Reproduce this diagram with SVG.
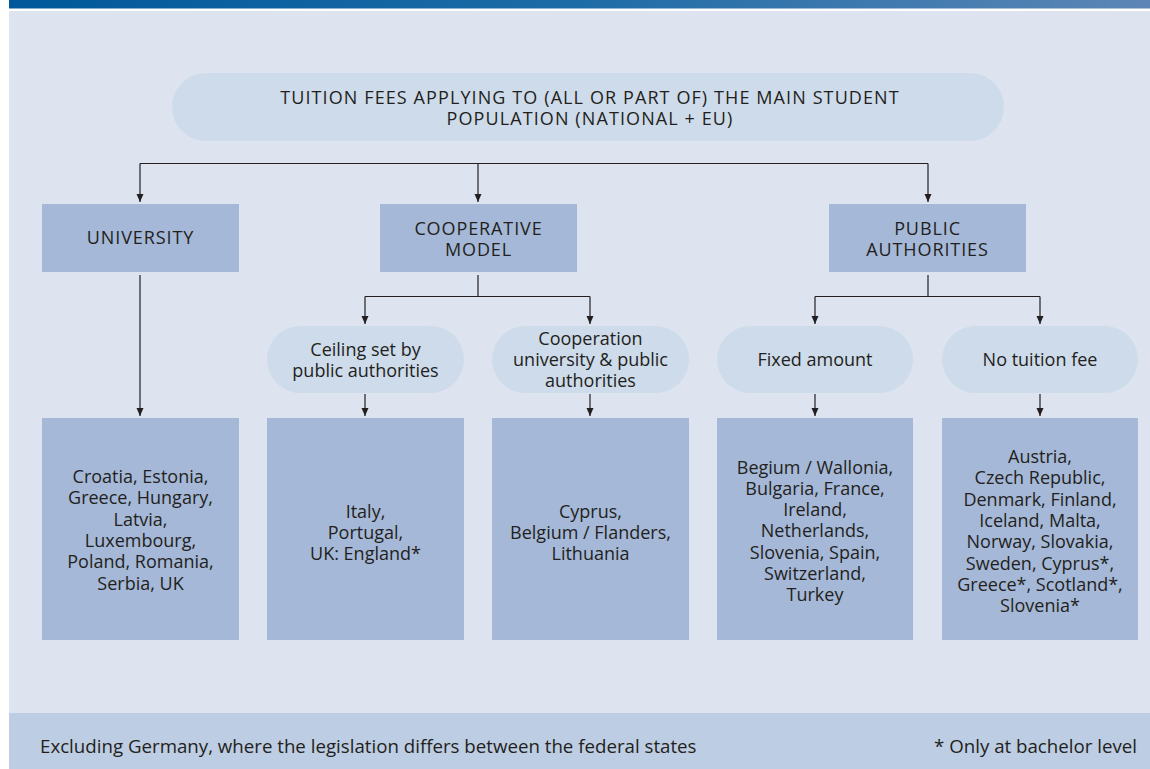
<svg xmlns="http://www.w3.org/2000/svg" width="1150" height="769" viewBox="0 0 1150 769">
<defs>
<linearGradient id="topbar" x1="0" y1="0" x2="1" y2="0">
<stop offset="0" stop-color="#00589a"/>
<stop offset="0.5" stop-color="#1e6ca7"/>
<stop offset="1" stop-color="#5d86b6"/>
</linearGradient>
<marker id="arr" viewBox="0 0 8 8" refX="8" refY="4" markerWidth="8" markerHeight="8" markerUnits="userSpaceOnUse" orient="auto">
<path d="M0,0.5 L8,4 L0,7.5 Z" fill="#231f20"/>
</marker>
<style>
text{font-family:"Open Sans","Noto Sans","Liberation Sans",sans-serif;fill:#231f20;text-anchor:middle;font-size:18px}
.cap{letter-spacing:0.9px}
.top{letter-spacing:1.1px}
.box{fill:#a5b8d7}
.oval{fill:#cedbea}
.ln{fill:none;stroke:#231f20;stroke-width:1.2}
.foot{font-size:18.7px;text-anchor:start}
</style>
</defs>
<rect x="0" y="0" width="1150" height="769" fill="#ffffff"/>
<rect x="9" y="0" width="1141" height="8.5" fill="url(#topbar)"/>
<rect x="9" y="11" width="1141" height="758" fill="#dde4ef"/>
<rect x="9" y="713" width="1141" height="56" fill="#bdcde3"/>

<g id="connectors">
<path class="ln" d="M140,163.5 H928"/>
<path class="ln" d="M140,163.5 V202" marker-end="url(#arr)"/>
<path class="ln" d="M478,163.5 V202" marker-end="url(#arr)"/>
<path class="ln" d="M928,163.5 V202" marker-end="url(#arr)"/>
<path class="ln" d="M140,275 V416" marker-end="url(#arr)"/>
<path class="ln" d="M478,275 V296.5 M365,296.5 H590"/>
<path class="ln" d="M365,296.5 V324" marker-end="url(#arr)"/>
<path class="ln" d="M590,296.5 V324" marker-end="url(#arr)"/>
<path class="ln" d="M928,275 V296.5 M815,296.5 H1040"/>
<path class="ln" d="M815,296.5 V324" marker-end="url(#arr)"/>
<path class="ln" d="M1040,296.5 V324" marker-end="url(#arr)"/>
<path class="ln" d="M365,394 V416" marker-end="url(#arr)"/>
<path class="ln" d="M590,394 V416" marker-end="url(#arr)"/>
<path class="ln" d="M815,394 V416" marker-end="url(#arr)"/>
<path class="ln" d="M1040,394 V416" marker-end="url(#arr)"/>
</g>

<g id="root">
<rect class="oval" x="172" y="73" width="832" height="68" rx="34"/>
<text class="top" x="590" y="103.5">TUITION FEES APPLYING TO (ALL OR PART OF) THE MAIN STUDENT</text>
<text class="top" x="590" y="124.5">POPULATION (NATIONAL + EU)</text>
</g>

<g id="university">
<rect class="box" x="42" y="204" width="197" height="68"/>
<text class="cap" x="140.5" y="243.5">UNIVERSITY</text>
</g>
<g id="cooperative">
<rect class="box" x="380" y="204" width="197" height="68"/>
<text class="cap" x="478.5" y="234.5">COOPERATIVE</text>
<text class="cap" x="478.5" y="255.5">MODEL</text>
</g>
<g id="public">
<rect class="box" x="829" y="204" width="197" height="68"/>
<text class="cap" x="927.5" y="234.5">PUBLIC</text>
<text class="cap" x="927.5" y="255.5">AUTHORITIES</text>
</g>

<g id="ceiling">
<rect class="oval" x="267" y="326" width="197" height="67" rx="33.5"/>
<text x="365.5" y="356">Ceiling set by</text>
<text x="365.5" y="377">public authorities</text>
</g>
<g id="cooperation">
<rect class="oval" x="492" y="326" width="197" height="67" rx="33.5"/>
<text x="590.5" y="345">Cooperation</text>
<text x="590.5" y="366">university &amp; public</text>
<text x="590.5" y="387">authorities</text>
</g>
<g id="fixed">
<rect class="oval" x="717" y="326" width="196" height="67" rx="33.5"/>
<text x="815" y="365.5">Fixed amount</text>
</g>
<g id="nofee">
<rect class="oval" x="942" y="326" width="196" height="67" rx="33.5"/>
<text x="1040" y="365.5">No tuition fee</text>
</g>

<g id="list-university">
<rect class="box" x="42" y="418" width="197" height="222"/>
<text x="140.5" y="483">Croatia, Estonia,</text>
<text x="140.5" y="504.3">Greece, Hungary,</text>
<text x="140.5" y="525.6">Latvia,</text>
<text x="140.5" y="547">Luxembourg,</text>
<text x="140.5" y="568.2">Poland, Romania,</text>
<text x="140.5" y="589.5">Serbia, UK</text>
</g>
<g id="list-ceiling">
<rect class="box" x="267" y="418" width="197" height="222"/>
<text x="365.5" y="517.5">Italy,</text>
<text x="365.5" y="538.8">Portugal,</text>
<text x="365.5" y="560">UK: England*</text>
</g>
<g id="list-cooperation">
<rect class="box" x="492" y="418" width="197" height="222"/>
<text x="590.5" y="517.5">Cyprus,</text>
<text x="590.5" y="538.8">Belgium / Flanders,</text>
<text x="590.5" y="560">Lithuania</text>
</g>
<g id="list-fixed">
<rect class="box" x="717" y="418" width="196" height="222"/>
<text x="815" y="473.5">Begium / Wallonia,</text>
<text x="815" y="494.8">Bulgaria, France,</text>
<text x="815" y="516.1">Ireland,</text>
<text x="815" y="537.4">Netherlands,</text>
<text x="815" y="558.7">Slovenia, Spain,</text>
<text x="815" y="580">Switzerland,</text>
<text x="815" y="601.3">Turkey</text>
</g>
<g id="list-nofee">
<rect class="box" x="942" y="418" width="196" height="222"/>
<text x="1040" y="463">Austria,</text>
<text x="1040" y="484.3">Czech Republic,</text>
<text x="1040" y="505.6">Denmark, Finland,</text>
<text x="1040" y="526.9">Iceland, Malta,</text>
<text x="1040" y="548.2">Norway, Slovakia,</text>
<text x="1040" y="569.5">Sweden, Cyprus*,</text>
<text x="1040" y="590.8">Greece*, Scotland*,</text>
<text x="1040" y="612.1">Slovenia*</text>
</g>

<g id="footer">
<text class="foot" x="40" y="753">Excluding Germany, where the legislation differs between the federal states</text>
<text class="foot" x="1137" y="753" style="text-anchor:end">* Only at bachelor level</text>
</g>
</svg>
